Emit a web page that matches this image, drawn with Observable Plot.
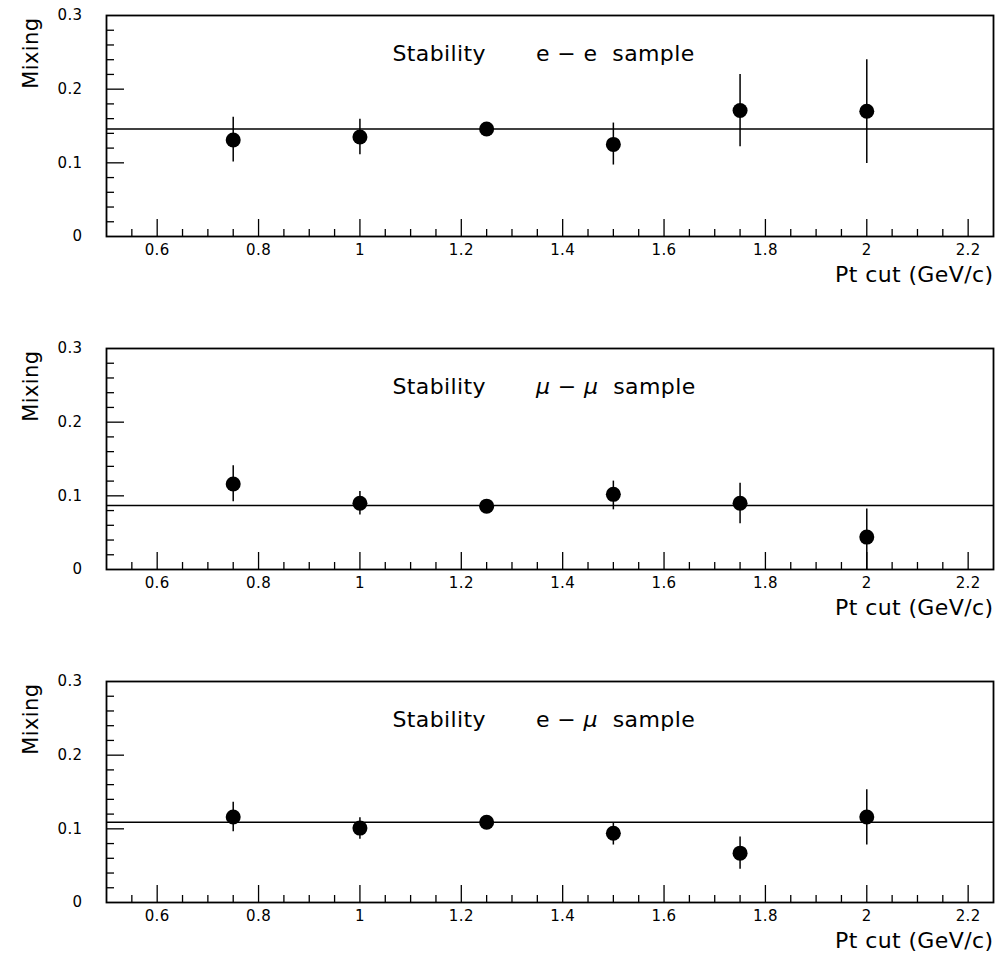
<!DOCTYPE html>
<html>
<head>
<meta charset="utf-8">
<script src="https://cdn.jsdelivr.net/npm/d3@7"></script>
<script src="https://cdn.jsdelivr.net/npm/@observablehq/plot@0.6"></script>
<style>
  html, body { margin: 0; padding: 0; background: #fff; }
  svg { display: block; }
  svg text { letter-spacing: 0.4px; }
</style>
</head>
<body>
<div id="chart"></div>
<script>
// ---- data ----
const ptCuts = [0.75, 1.0, 1.25, 1.5, 1.75, 2.0];

const eeMix = [0.131, 0.135, 0.146, 0.125, 0.171, 0.170];
const eeLo  = [0.101, 0.111, 0.140, 0.097, 0.122, 0.099];
const eeHi  = [0.162, 0.159, 0.152, 0.154, 0.220, 0.240];

const mmMix = [0.116, 0.090, 0.086, 0.102, 0.090, 0.044];
const mmLo  = [0.092, 0.074, 0.080, 0.081, 0.062, 0.000];
const mmHi  = [0.141, 0.106, 0.092, 0.120, 0.117, 0.082];

const emMix = [0.116, 0.101, 0.109, 0.094, 0.067, 0.116];
const emLo  = [0.096, 0.086, 0.103, 0.078, 0.045, 0.078];
const emHi  = [0.136, 0.115, 0.115, 0.108, 0.089, 0.153];

const fitValues = [0.146, 0.087, 0.109];
const sampleLabels = ["e \u2212 e  sample", "\u03bc \u2212 \u03bc  sample", "e \u2212 \u03bc  sample"];
const titleWord = "Stability";
const yLabel = "Mixing";
const xLabel = "Pt cut (GeV/c)";

const xDomain = [0.5, 2.25];
const yDomain = [0, 0.3];
const xLabelTicks = [0.6, 0.8, 1.0, 1.2, 1.4, 1.6, 1.8, 2.0, 2.2];
const xMinorTicks = [0.55, 0.65, 0.7, 0.75, 0.85, 0.9, 0.95, 1.05, 1.1, 1.15, 1.25, 1.3, 1.35, 1.45, 1.5, 1.55, 1.65, 1.7, 1.75, 1.85, 1.9, 1.95, 2.05, 2.1, 2.15];
const yLabelTicks = [0, 0.1, 0.2, 0.3];
const yMajorTicks = [0.1, 0.2];
const yMinorTicks = [0.02, 0.04, 0.06, 0.08, 0.12, 0.14, 0.16, 0.18, 0.22, 0.24, 0.26, 0.28];

const series = [
  {mix: eeMix, lo: eeLo, hi: eeHi},
  {mix: mmMix, lo: mmLo, hi: mmHi},
  {mix: emMix, lo: emLo, hi: emHi}
];

// ---- layout ----
const W = 999;
const mL = 106, mR = 6, mT = 15, frameH = 221;
const frameW = W - mL - mR;
const heights = [333, 333, 307];
const font = "DejaVu Sans";
const fmt = d3.format("~g");

const root = document.getElementById("chart");

series.forEach((s, i) => {
  const rows = ptCuts.map((x, j) => ({x, y: s.mix[j], lo: s.lo[j], hi: s.hi[j]}));
  const H = heights[i];
  const svg = Plot.plot({
    width: W,
    height: H,
    marginLeft: mL,
    marginRight: mR,
    marginTop: mT,
    marginBottom: H - mT - frameH,
    style: {fontFamily: font, background: "#fff", color: "#000"},
    x: {domain: xDomain, axis: null},
    y: {domain: yDomain, axis: null},
    marks: [
      // inward ticks
      Plot.ruleX(xLabelTicks, {x: d => d, insetTop: frameH - 17, stroke: "#000", strokeWidth: 1.3}),
      Plot.ruleX(xMinorTicks, {x: d => d, insetTop: frameH - 7, stroke: "#000", strokeWidth: 1.3}),
      Plot.ruleY(yMajorTicks, {y: d => d, insetRight: frameW - 18, stroke: "#000", strokeWidth: 1.3}),
      Plot.ruleY(yMinorTicks, {y: d => d, insetRight: frameW - 8, stroke: "#000", strokeWidth: 1.3}),
      // fit line
      Plot.ruleY([fitValues[i]], {y: d => d, stroke: "#000", strokeWidth: 1.5}),
      // error bars
      Plot.ruleX(rows, {x: "x", y1: "lo", y2: "hi", stroke: "#000", strokeWidth: 1.5}),
      // points
      Plot.dot(rows, {x: "x", y: "y", r: 7.5, fill: "#000", stroke: "none"}),
      Plot.frame({stroke: "#000", strokeWidth: 1.8}),
      // tick labels
      Plot.text(xLabelTicks, {x: d => d, frameAnchor: "bottom", dy: 18, text: d => fmt(d), fontSize: 15, fill: "#000"}),
      Plot.text(yLabelTicks, {y: d => d, frameAnchor: "left", dx: -24, textAnchor: "end", text: d => fmt(d), fontSize: 15, fill: "#000"}),
      // axis titles
      Plot.text([xLabel], {text: d => d, frameAnchor: "bottom-right", dy: 45, textAnchor: "end", fontSize: 22, fill: "#000"}),
      Plot.text([yLabel], {text: d => d, frameAnchor: "top-left", dx: -83, dy: 2, rotate: -90, textAnchor: "end", fontSize: 21, fill: "#000"}),
      // panel title
      Plot.text([titleWord], {text: d => d, frameAnchor: "top", dx: -64, dy: 30, textAnchor: "end", fontSize: 22, fill: "#000"}),
      Plot.text([sampleLabels[i]], {text: d => d, frameAnchor: "top", dx: -14, dy: 30, textAnchor: "start", fontSize: 22, fill: "#000"})
    ]
  });
  // italicise the greek mu
  d3.select(svg).selectAll("text").each(function() {
    const t = this.textContent;
    if (this.children.length === 0 && t.includes("\u03bc")) {
      const parts = t.split("\u03bc");
      const el = d3.select(this);
      el.text(null);
      parts.forEach((p, k) => {
        if (k > 0) el.append("tspan").attr("font-style", "italic").text("\u03bc");
        if (p) el.append("tspan").text(p);
      });
    }
  });
  root.appendChild(svg);
});
</script>
</body>
</html>
